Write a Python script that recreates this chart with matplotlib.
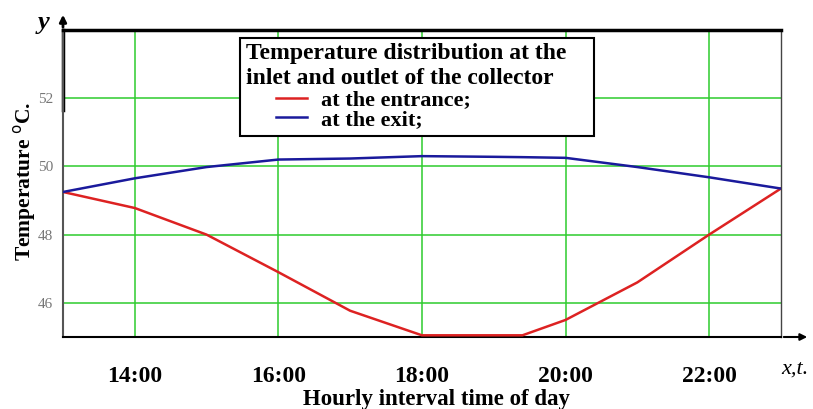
import matplotlib
matplotlib.use("Agg")
from matplotlib import pyplot
from matplotlib.offsetbox import HPacker, DrawingArea

# hours of day and temperatures
hours = [13, 14, 15, 16, 17, 18, 19, 19.4, 20, 21, 22, 23]
t_entrance = [49.25, 48.78, 48.0, 46.9, 45.77, 45.05, 45.05, 45.05, 45.5, 46.6, 48.0, 49.35]
t_exit = [49.25, 49.65, 49.98, 50.2, 50.23, 50.3, 50.28, 50.27, 50.25, 49.98, 49.68, 49.35]

x_ticks = [14, 16, 18, 20, 22]
x_labels = ['14:00', '16:00', '18:00', '20:00', '22:00']
y_ticks = [46, 48, 50, 52]

serif = 'Liberation Serif'
pyplot.rcParams['font.family'] = serif

figure = pyplot.figure(figsize=(8.13, 4.09), dpi=100)
ax = figure.add_axes([0.0775, 0.176, 0.883, 0.751])

ax.plot(hours, t_entrance, color='#dd2222', lw=1.8, label='at the entrance;', zorder=3)
ax.plot(hours, t_exit, color='#1a1a9c', lw=1.8, label='at the exit;', zorder=3)

ax.set_xlim(13, 23)
ax.set_ylim(45, 54)
ax.set_xticks(x_ticks)
ax.set_xticklabels(x_labels, fontweight='bold', fontsize=17)
ax.set_yticks(y_ticks)
ax.set_yticklabels([str(v) for v in y_ticks], fontsize=11, color='#777777')
ax.tick_params(axis='x', length=0, pad=21)
ax.tick_params(axis='y', length=0, pad=7)
ax.grid(True, color='#2ecc2e', lw=1.1)
ax.set_axisbelow(True)

ax.spines['top'].set_linewidth(2.5)
ax.spines['left'].set_linewidth(1.5)
ax.spines['left'].set_color('#555555')
ax.spines['bottom'].set_linewidth(1.5)
ax.spines['right'].set_linewidth(1)
ax.spines['right'].set_color('#444444')
# upper part of the y axis is drawn heavier
ax.axvline(13, ymin=0.74, ymax=1, color='black', lw=2.5, clip_on=False)

# arrows on the axes
ax.annotate('', xy=(63 / 813, 1 - 12 / 409), xytext=(63 / 813, 1 - 30 / 409),
            xycoords='figure fraction',
            arrowprops=dict(arrowstyle='-|>', color='black', lw=2, mutation_scale=10))
ax.annotate('', xy=(810 / 813, 1 - 337 / 409), xytext=(781 / 813, 1 - 337 / 409),
            xycoords='figure fraction',
            arrowprops=dict(arrowstyle='-|>', color='black', lw=1.5, mutation_scale=10))

figure.text(44 / 813, 1 - 22 / 409, 'y', fontsize=19, fontstyle='italic', fontweight='bold',
            ha='center', va='center')
figure.text(795 / 813, 1 - 369 / 409, 'x,t.', fontsize=16, fontstyle='italic',
            ha='center', va='center')

ax.set_xlabel('Hourly interval time of day', fontweight='bold', fontsize=16.5)
ax.xaxis.set_label_coords(0.52, -0.168)
ax.set_ylabel(r'Temperature $^{\mathrm{o}}$C.', fontweight='bold', fontsize=15.5)
ax.yaxis.set_label_coords(-0.035, 0.508)

legend = ax.legend(title='Temperature distribution at the\ninlet and outlet of the collector',
                   loc='upper left', bbox_to_anchor=(0.2465, 0.974), frameon=True,
                   fancybox=False, edgecolor='black', framealpha=1,
                   prop={'family': serif, 'weight': 'bold', 'size': 16},
                   title_fontproperties={'family': serif, 'weight': 'bold', 'size': 17},
                   alignment='left', labelspacing=-0.05, handlelength=1.4,
                   handletextpad=0.6, borderpad=0.25, borderaxespad=0)
legend.get_frame().set_linewidth(1.5)
# indent the entries under the title and widen the box to the right
indent = HPacker(children=[DrawingArea(22, 1), legend._legend_handle_box, DrawingArea(85, 1)],
                 pad=0, sep=0)
indent.set_figure(figure)
legend._legend_box._children[1] = indent
legend._legend_box.sep = 1

figure.savefig('out.png', dpi=100)
